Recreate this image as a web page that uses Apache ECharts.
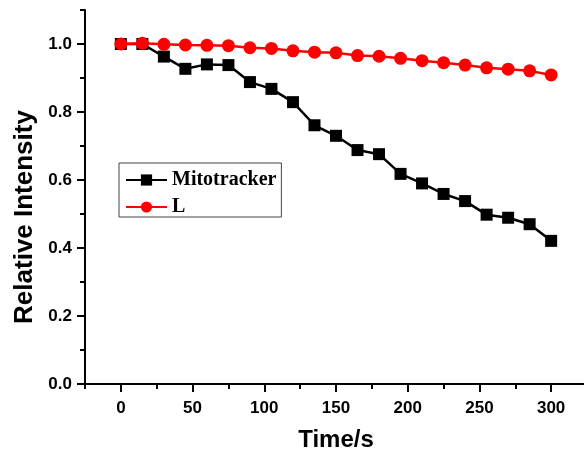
<!DOCTYPE html>
<html>
<head>
<meta charset="utf-8">
<script src="https://cdn.jsdelivr.net/npm/echarts@6/dist/echarts.min.js"></script>
<style>html,body{margin:0;padding:0;background:#fff}#c{width:584px;height:454px}</style>
</head>
<body>
<div id="c"></div>
<script>
const times = [0,15,30,45,60,75,90,105,120,135,150,165,180,195,210,225,240,255,270,285,300];
const mitotracker = [1.0,1.0,0.963,0.927,0.94,0.938,0.888,0.868,0.829,0.761,0.73,0.688,0.676,0.618,0.59,0.559,0.538,0.498,0.489,0.47,0.421];
const seriesL = [1.0,1.002,0.999,0.997,0.996,0.995,0.989,0.987,0.98,0.976,0.974,0.966,0.964,0.958,0.951,0.945,0.938,0.93,0.926,0.921,0.909];
const xMajorTicks = [0,50,100,150,200,250,300];
const xMinorTicks = [-25,25,75,125,175,225,275,325];
const yMajorTicks = [0,0.2,0.4,0.6,0.8,1.0];
const yMinorTicks = [0.1,0.3,0.5,0.7,0.9,1.1];

const chart = echarts.init(document.getElementById('c'), null, {renderer:'canvas'});
const sans = 'Liberation Sans, Arial, sans-serif';
const serif = 'Liberation Serif, Times New Roman, serif';
const lineStyle = {color:'#000', width:2};
chart.setOption({
  animation:false,
  backgroundColor:'#fff',
  grid:{left:85, top:10, right:-3, bottom:70, containLabel:false, outerBoundsMode:'none'},
  legend:{
    left:119, top:163, orient:'vertical',
    padding:[7,5,0,6], itemGap:7, itemWidth:41, itemHeight:14,
    borderColor:'#444', borderWidth:1,
    textStyle:{fontFamily:serif, fontWeight:'bold', fontSize:20, color:'#000'},
    data:['Mitotracker','L']
  },
  xAxis:[{
    type:'value', min:-25, max:325, position:'bottom',
    name:'Time/s', nameLocation:'middle', nameGap:44,
    nameTextStyle:{fontFamily:sans, fontWeight:'bold', fontSize:24, color:'#000'},
    axisLine:{show:true, onZero:false, lineStyle:lineStyle},
    axisTick:{show:true, inside:false, length:8, lineStyle:lineStyle, customValues:xMajorTicks},
    axisLabel:{customValues:xMajorTicks, margin:16, fontFamily:sans, fontWeight:'bold', fontSize:17, color:'#000'},
    splitLine:{show:false}
  },{
    type:'value', min:-25, max:325, position:'bottom',
    axisLine:{show:false, onZero:false},
    axisTick:{show:true, inside:false, length:5, lineStyle:lineStyle, customValues:xMinorTicks},
    axisLabel:{show:false},
    splitLine:{show:false}
  }],
  yAxis:[{
    type:'value', min:0, max:1.1, position:'left',
    name:'Relative Intensity', nameLocation:'middle', nameGap:46,
    nameTextStyle:{fontFamily:sans, fontWeight:'bold', fontSize:26, color:'#000', padding:[0,40,0,0]},
    axisLine:{show:true, onZero:false, lineStyle:lineStyle},
    axisTick:{show:true, inside:false, length:8, lineStyle:lineStyle, customValues:yMajorTicks},
    axisLabel:{customValues:yMajorTicks, margin:13, fontFamily:sans, fontWeight:'bold', fontSize:17, color:'#000',
      formatter:(v)=>v.toFixed(1)},
    splitLine:{show:false}
  },{
    type:'value', min:0, max:1.1, position:'left',
    axisLine:{show:false, onZero:false},
    axisTick:{show:true, inside:false, length:5, lineStyle:lineStyle, customValues:yMinorTicks},
    axisLabel:{show:false},
    splitLine:{show:false}
  }],
  series:[{
    name:'Mitotracker', type:'line', xAxisIndex:0, yAxisIndex:0,
    data: times.map((t,i)=>[t, mitotracker[i]]),
    symbol:'rect', symbolSize:12,
    itemStyle:{color:'#000'}, lineStyle:{color:'#000', width:2.5}
  },{
    name:'L', type:'line', xAxisIndex:0, yAxisIndex:0,
    data: times.map((t,i)=>[t, seriesL[i]]),
    symbol:'circle', symbolSize:13,
    itemStyle:{color:'#ff0000'}, lineStyle:{color:'#ff0000', width:2.5}
  }]
});
</script>
</body>
</html>
